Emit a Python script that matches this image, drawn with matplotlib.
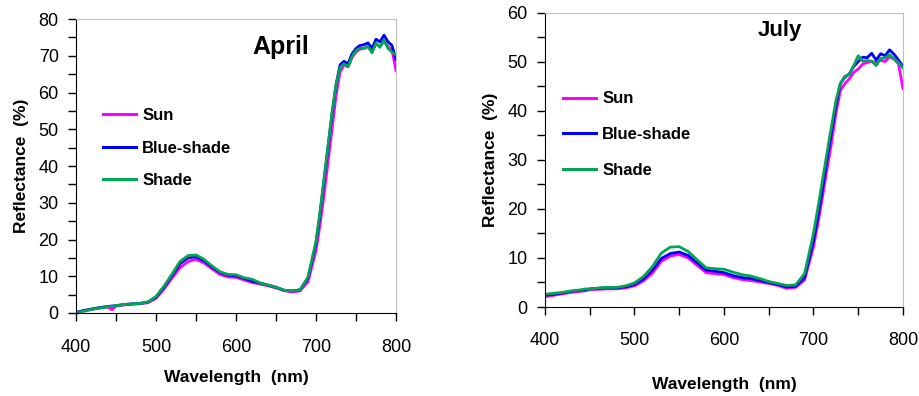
import matplotlib.pyplot as plt
from matplotlib.ticker import MultipleLocator

plt.rcParams['font.family'] = ['Liberation Sans', 'DejaVu Sans']

# longueurs d'onde (nm)
wl = [400, 410, 420, 430, 440, 445, 450, 460, 470, 480, 490, 500, 510, 520, 530,
      540, 550, 560, 570, 580, 590, 600, 610, 620, 630, 640, 650, 660, 670, 680,
      690, 700, 705, 710, 715, 720, 725, 730, 735, 740, 745, 750, 755, 760, 765,
      770, 775, 780, 785, 790, 795, 800]

# Avril
april_sun = [0.2, 0.6, 1.0, 1.4, 1.6, 0.9, 1.9, 2.2, 2.4, 2.5, 2.8, 4.0, 6.5, 9.5, 12.3,
             14.0, 14.6, 13.6, 12.0, 10.5, 9.8, 9.7, 9.0, 8.3, 7.9, 7.4, 6.8, 6.1, 5.7, 6.0,
             8.5, 17, 24, 32, 41, 50, 59, 65.5, 67.5, 67, 69.5, 71, 71.8, 72, 72.5,
             71.2, 73.2, 72.5, 74, 72.5, 71.5, 66]
april_blue = [0.1, 0.7, 1.1, 1.5, 1.8, 1.9, 2.0, 2.3, 2.5, 2.6, 3.0, 4.3, 7.0, 10.2, 13.4,
              15.0, 15.3, 14.2, 12.5, 11.0, 10.3, 10.1, 9.4, 8.7, 8.1, 7.6, 7.0, 6.2, 6.0, 6.3,
              9.5, 19, 27, 36, 45, 54, 62, 67.5, 68.5, 67.8, 70.5, 72, 72.8, 73, 73.5,
              72, 74.5, 73.8, 75.6, 73.8, 72.8, 69]
april_shade = [0.0, 0.5, 1.0, 1.4, 1.7, 1.8, 2.0, 2.3, 2.5, 2.6, 3.0, 4.5, 7.3, 10.6, 14.0,
               15.6, 15.8, 14.6, 12.8, 11.2, 10.5, 10.4, 9.6, 9.2, 8.2, 7.6, 7.0, 6.2, 6.0, 6.3,
               9.8, 19.5, 27.5, 36.5, 45.5, 54.5, 62, 66.8, 67.8, 67, 69.8, 71.5, 72, 72, 72.5,
               70.8, 73.5, 72.3, 74.3, 72, 71, 70.2]

# Juillet
july_sun = [2.1, 2.4, 2.7, 3.0, 3.2, 3.3, 3.5, 3.6, 3.7, 3.7, 3.9, 4.3, 5.3, 6.9, 9.3,
            10.4, 10.7, 10.0, 8.5, 7.0, 6.8, 6.6, 6.0, 5.6, 5.4, 5.1, 4.8, 4.4, 3.8, 4.0,
            5.5, 12.3, 17, 22.4, 28, 33.3, 39.4, 44.1, 45.5, 46.5, 47.8, 48.5, 49.5, 49.8, 50,
            49.8, 50.3, 50, 51, 50.5, 49.5, 44.5]
july_blue = [2.4, 2.6, 2.9, 3.2, 3.4, 3.5, 3.7, 3.8, 3.9, 3.9, 4.1, 4.6, 5.7, 7.5, 9.9,
             10.9, 11.2, 10.5, 9.0, 7.5, 7.3, 7.0, 6.4, 6.0, 5.8, 5.4, 5.0, 4.6, 4.1, 4.2,
             6.0, 13.5, 18.5, 24, 30, 35.5, 41, 45.5, 46.8, 47.5, 49, 50, 50.9, 50.8, 51.7,
             50.3, 51.6, 51.2, 52.4, 51.5, 50.3, 49]
july_shade = [2.6, 2.8, 3.0, 3.3, 3.5, 3.7, 3.6, 3.9, 4.0, 4.0, 4.3, 4.9, 6.2, 8.2, 11.0,
              12.2, 12.3, 11.3, 9.6, 8.0, 7.8, 7.7, 7.1, 6.6, 6.3, 5.8, 5.2, 4.8, 4.4, 4.5,
              6.8, 15, 20.3, 25.8, 31.3, 36.7, 42, 45.5, 47, 47.4, 49.2, 51.2, 50.1, 50.2, 50.1,
              49.2, 50.6, 50.8, 51.4, 50.6, 49.8, 48.7]

labels = ["Sun", "Blue-shade", "Shade"]
couleurs = ["#FF00FF", "#0000FF", "#00A651"]

fig = plt.figure(figsize=(9.19, 3.96), dpi=100)
ax1 = fig.add_axes([0.0827, 0.2096, 0.3482, 0.7424])
ax2 = fig.add_axes([0.593, 0.2247, 0.3896, 0.7437])


def dessiner(ax, series, ymax, titre, titre_pos, titre_size, leg_anchor, leg_space,
             xpad, xlabelpad):
    for y, lab, c in zip(series, labels, couleurs):
        ax.plot(wl, y, color=c, lw=2.0, label=lab, solid_joinstyle='round')
    ax.set_xlim(400, 800)
    ax.set_ylim(0, ymax)
    ax.xaxis.set_major_locator(MultipleLocator(100))
    ax.xaxis.set_minor_locator(MultipleLocator(50))
    ax.yaxis.set_major_locator(MultipleLocator(10))
    ax.yaxis.set_minor_locator(MultipleLocator(5))
    ax.tick_params(which='both', direction='out', length=5.5, width=1, color='black')
    ax.tick_params(axis='both', labelsize=13)
    ax.tick_params(axis='x', pad=xpad)
    ax.tick_params(axis='y', pad=7)
    for s in ['top', 'right']:
        ax.spines[s].set_color('#BFBFBF')
    for s in ['left', 'bottom']:
        ax.spines[s].set_color('black')
    ax.set_xlabel("Wavelength  (nm)", fontsize=12.5, fontweight='bold', labelpad=xlabelpad)
    ax.set_ylabel("Reflectance  (%)", fontsize=12.5, fontweight='bold', labelpad=7)
    ax.text(titre_pos[0], titre_pos[1], titre, transform=ax.transAxes, fontsize=titre_size,
            fontweight='bold', ha='center', va='center')
    leg = ax.legend(loc='upper left', bbox_to_anchor=leg_anchor, frameon=False,
                    handlelength=2.0, handletextpad=0.35, labelspacing=leg_space,
                    borderaxespad=0, borderpad=0,
                    prop={'size': 12, 'weight': 'bold'})
    for l in leg.get_lines():
        l.set_linewidth(2.2)


dessiner(ax1, [april_sun, april_blue, april_shade], 80, "April", (0.64, 0.905), 18,
         (0.084, 0.697), 1.05, 13, 10)
dessiner(ax2, [july_sun, july_blue, july_shade], 60, "July", (0.655, 0.94), 16,
         (0.05, 0.732), 1.25, 12.5, 20)

fig.savefig("out.png", dpi=100)
